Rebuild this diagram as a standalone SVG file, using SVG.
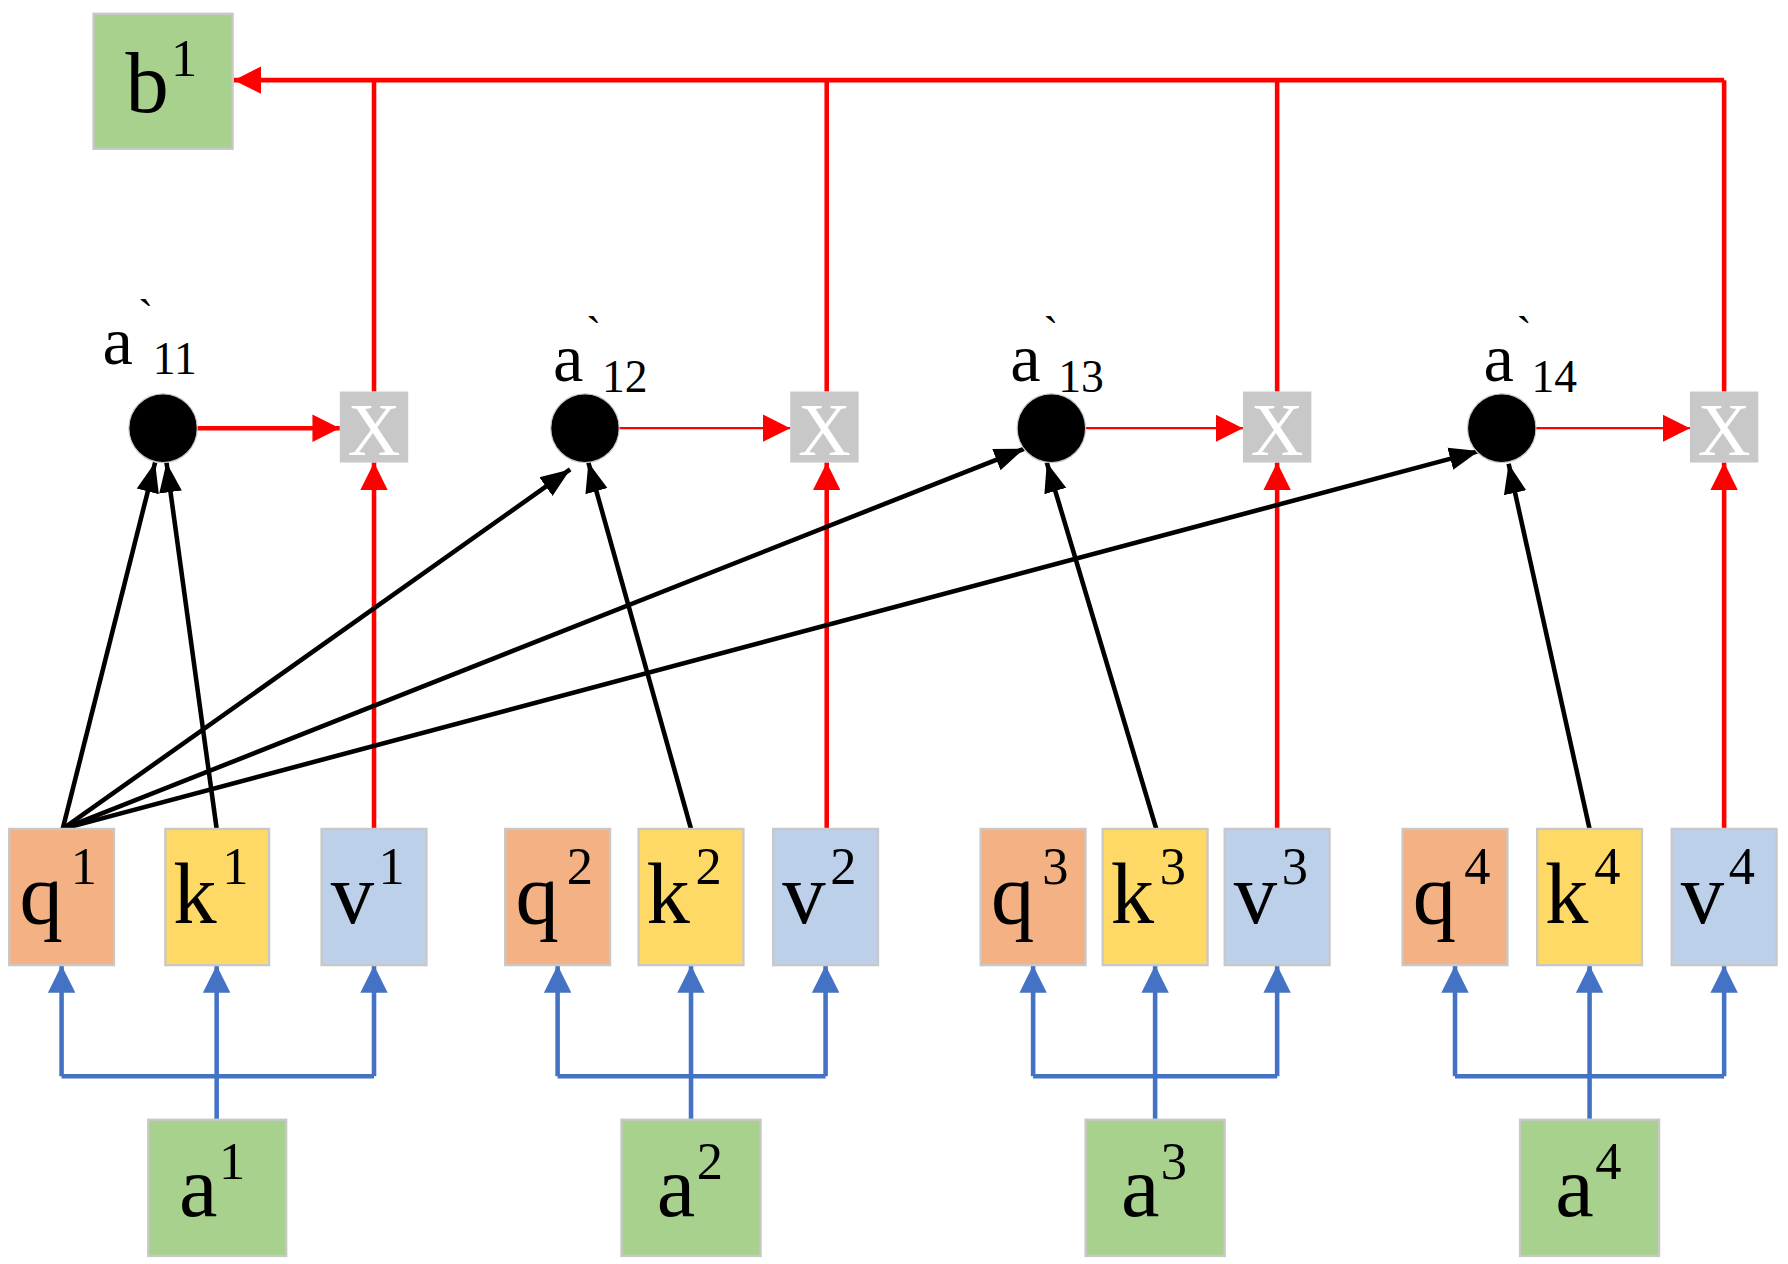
<svg xmlns="http://www.w3.org/2000/svg" width="1788" height="1264" viewBox="0 0 1788 1264">
<defs>
<style>
.t{font-family:"Liberation Serif","Times New Roman",serif;fill:#000}
.m{font-size:76px}.s{font-size:46px}.l{font-size:60px}.ls{font-size:40px}
.q{fill:#F4B183;stroke:#C8C8C8;stroke-width:2}
.k{fill:#FFD966;stroke:#C8C8C8;stroke-width:2}
.v{fill:#BDD0E9;stroke:#C8C8C8;stroke-width:2}
.g{fill:#A9D18E;stroke:#C8C8C8;stroke-width:2}
.x{fill:#C8C8C8}
.xt{font-family:"Liberation Serif",serif;font-size:64px;fill:#fff}
.red{stroke:#FF0000;stroke-width:4;fill:none}
.redt{stroke:#FF0000;stroke-width:2;fill:none}
.blk{stroke:#000;stroke-width:4;fill:none}
.blu{stroke:#4472C4;stroke-width:4;fill:none}
</style>
<marker id="ar" markerUnits="userSpaceOnUse" markerWidth="26" markerHeight="24" refX="24" refY="12" orient="auto"><path d="M0,0 L24,12 L0,24 z" fill="#FF0000"/></marker>
<marker id="ab" markerUnits="userSpaceOnUse" markerWidth="28" markerHeight="24" refX="26" refY="12" orient="auto"><path d="M0,2 L26,12 L0,22 z" fill="#000"/></marker>
<marker id="au" markerUnits="userSpaceOnUse" markerWidth="26" markerHeight="24" refX="24" refY="12" orient="auto"><path d="M0,0 L24,12 L0,24 z" fill="#4472C4"/></marker>
</defs>
<g transform="scale(1.1403 1.1449)">
<g id="connectors">
<path class="red" d="M1512,70 H205" marker-end="url(#ar)"/>
<path class="red" d="M328,342 V70 M725,342 V70 M1120,342 V70 M1512,342 V70"/>
<path class="red" d="M328,724 V404" marker-end="url(#ar)"/>
<path class="red" d="M725,724 V404" marker-end="url(#ar)"/>
<path class="red" d="M1120,724 V404" marker-end="url(#ar)"/>
<path class="red" d="M1512,724 V404" marker-end="url(#ar)"/>
<path class="red" d="M173,374 H298" marker-end="url(#ar)"/>
<path class="redt" d="M543,374 H693" marker-end="url(#ar)"/>
<path class="redt" d="M952,374 H1090" marker-end="url(#ar)"/>
<path class="redt" d="M1347,374 H1482" marker-end="url(#ar)"/>
<path class="blk" d="M55,724 L136,404" marker-end="url(#ab)"/>
<path class="blk" d="M55,724 L500,410" marker-end="url(#ab)"/>
<path class="blk" d="M55,724 L898,392" marker-end="url(#ab)"/>
<path class="blk" d="M55,724 L1297,394" marker-end="url(#ab)"/>
<path class="blk" d="M190,724 L146,404" marker-end="url(#ab)"/>
<path class="blk" d="M606,724 L516,404" marker-end="url(#ab)"/>
<path class="blk" d="M1014,724 L918,404" marker-end="url(#ab)"/>
<path class="blk" d="M1394,724 L1323,405" marker-end="url(#ab)"/>
<path class="blu" d="M54,940 H328 M489,940 H724 M906,940 H1120 M1276,940 H1512"/>
<path class="blu" d="M54,940 V843" marker-end="url(#au)"/>
<path class="blu" d="M190,978 V843" marker-end="url(#au)"/>
<path class="blu" d="M328,940 V843" marker-end="url(#au)"/>
<path class="blu" d="M489,940 V843" marker-end="url(#au)"/>
<path class="blu" d="M606,978 V843" marker-end="url(#au)"/>
<path class="blu" d="M724,940 V843" marker-end="url(#au)"/>
<path class="blu" d="M906,940 V843" marker-end="url(#au)"/>
<path class="blu" d="M1013,978 V843" marker-end="url(#au)"/>
<path class="blu" d="M1120,940 V843" marker-end="url(#au)"/>
<path class="blu" d="M1276,940 V843" marker-end="url(#au)"/>
<path class="blu" d="M1394,978 V843" marker-end="url(#au)"/>
<path class="blu" d="M1512,940 V843" marker-end="url(#au)"/>
</g>
<g id="b1"><rect class="g" x="82" y="12" width="122" height="118"/><text class="t m" x="110" y="98">b</text><text class="t s" x="150" y="66">1</text></g>
<g id="x1"><rect class="x" x="298" y="342" width="60" height="62"/><text class="xt" x="328" y="397" text-anchor="middle">X</text></g>
<g id="x2"><rect class="x" x="693" y="342" width="60" height="62"/><text class="xt" x="723" y="397" text-anchor="middle">X</text></g>
<g id="x3"><rect class="x" x="1090" y="342" width="60" height="62"/><text class="xt" x="1120" y="397" text-anchor="middle">X</text></g>
<g id="x4"><rect class="x" x="1482" y="342" width="60" height="62"/><text class="xt" x="1512" y="397" text-anchor="middle">X</text></g>
<g id="c1"><circle cx="143" cy="374" r="30" fill="#000" stroke="#C8C8C8" stroke-width="1"/><text class="t l" x="90" y="318">a</text><text class="t ls" x="121" y="290">`</text><text class="t ls" x="134" y="327">11</text></g>
<g id="c2"><circle cx="513" cy="374" r="30" fill="#000" stroke="#C8C8C8" stroke-width="1"/><text class="t l" x="485" y="333">a</text><text class="t ls" x="514" y="305">`</text><text class="t ls" x="528" y="342">12</text></g>
<g id="c3"><circle cx="922" cy="374" r="30" fill="#000" stroke="#C8C8C8" stroke-width="1"/><text class="t l" x="886" y="333">a</text><text class="t ls" x="915" y="305">`</text><text class="t ls" x="928" y="342">13</text></g>
<g id="c4"><circle cx="1317" cy="374" r="30" fill="#000" stroke="#C8C8C8" stroke-width="1"/><text class="t l" x="1301" y="333">a</text><text class="t ls" x="1330" y="305">`</text><text class="t ls" x="1343" y="342">14</text></g>
<g id="q1"><rect class="q" x="8" y="724" width="92" height="119"/><text class="t m" x="17" y="806">q</text><text class="t s" x="62" y="772">1</text></g>
<g id="k1"><rect class="k" x="145" y="724" width="91" height="119"/><text class="t m" x="152" y="806">k</text><text class="t s" x="195" y="772">1</text></g>
<g id="v1"><rect class="v" x="282" y="724" width="92" height="119"/><text class="t m" x="290" y="806">v</text><text class="t s" x="332" y="772">1</text></g>
<g id="q2"><rect class="q" x="443" y="724" width="92" height="119"/><text class="t m" x="452" y="806">q</text><text class="t s" x="497" y="772">2</text></g>
<g id="k2"><rect class="k" x="560" y="724" width="92" height="119"/><text class="t m" x="567" y="806">k</text><text class="t s" x="610" y="772">2</text></g>
<g id="v2"><rect class="v" x="678" y="724" width="92" height="119"/><text class="t m" x="686" y="806">v</text><text class="t s" x="728" y="772">2</text></g>
<g id="q3"><rect class="q" x="860" y="724" width="92" height="119"/><text class="t m" x="869" y="806">q</text><text class="t s" x="914" y="772">3</text></g>
<g id="k3"><rect class="k" x="967" y="724" width="92" height="119"/><text class="t m" x="974" y="806">k</text><text class="t s" x="1017" y="772">3</text></g>
<g id="v3"><rect class="v" x="1074" y="724" width="92" height="119"/><text class="t m" x="1082" y="806">v</text><text class="t s" x="1124" y="772">3</text></g>
<g id="q4"><rect class="q" x="1230" y="724" width="92" height="119"/><text class="t m" x="1239" y="806">q</text><text class="t s" x="1284" y="772">4</text></g>
<g id="k4"><rect class="k" x="1348" y="724" width="92" height="119"/><text class="t m" x="1355" y="806">k</text><text class="t s" x="1398" y="772">4</text></g>
<g id="v4"><rect class="v" x="1466" y="724" width="92" height="119"/><text class="t m" x="1474" y="806">v</text><text class="t s" x="1516" y="772">4</text></g>
<g id="a1"><rect class="g" x="130" y="978" width="121" height="119"/><text class="t m" x="157" y="1062">a</text><text class="t s" x="192" y="1030">1</text></g>
<g id="a2"><rect class="g" x="545" y="978" width="122" height="119"/><text class="t m" x="576" y="1062">a</text><text class="t s" x="611" y="1030">2</text></g>
<g id="a3"><rect class="g" x="952" y="978" width="122" height="119"/><text class="t m" x="983" y="1062">a</text><text class="t s" x="1018" y="1030">3</text></g>
<g id="a4"><rect class="g" x="1333" y="978" width="122" height="119"/><text class="t m" x="1364" y="1062">a</text><text class="t s" x="1399" y="1030">4</text></g>
</g>
</svg>
